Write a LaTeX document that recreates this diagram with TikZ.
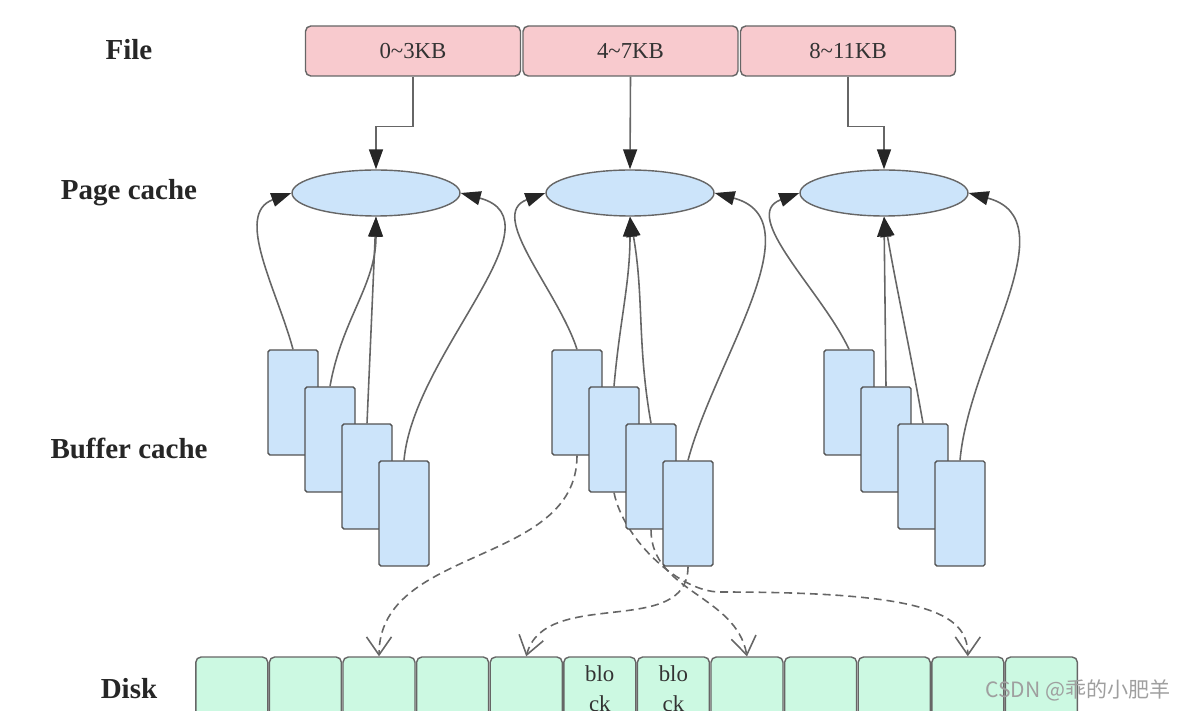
\documentclass[tikz,border=0pt]{standalone}
\usepackage{fontspec}
\setmainfont{Liberation Serif}
\newfontfamily\cjkfont{Noto Sans CJK SC}
\usetikzlibrary{arrows.meta,shapes.geometric,backgrounds}

\definecolor{filepink}{HTML}{F8CACE}
\definecolor{cacheblue}{HTML}{CCE4FA}
\definecolor{diskgreen}{HTML}{CCF9E2}
\definecolor{edgegray}{HTML}{666666}

\begin{document}
\begin{tikzpicture}[
  x=0.02cm, y=0.02cm,
  lbl/.style={font=\fontsize{16.5}{20}\selectfont\bfseries, text=black!85},
  filebox/.style={rectangle, rounded corners=3pt, draw=edgegray, fill=filepink, line width=0.8pt, minimum width=4.3cm, minimum height=1.0cm, inner sep=0pt, font=\fontsize{13}{16}\selectfont, text=black!80},
  pagenode/.style={ellipse, draw=edgegray, fill=cacheblue, line width=0.8pt, minimum width=3.36cm, minimum height=0.92cm, inner sep=0pt},
  bufbox/.style={rectangle, rounded corners=1pt, draw=edgegray!80!black, fill=cacheblue, line width=0.8pt, minimum width=1.0cm, minimum height=2.1cm, inner sep=0pt},
  diskcell/.style={rectangle, rounded corners=3pt, draw=edgegray, fill=diskgreen, line width=0.8pt, minimum width=1.44cm, minimum height=1.28cm, inner sep=0pt, align=center, font=\fontsize{13}{17}\selectfont, text=black!80},
  arrow/.style={-{Triangle[length=0.4cm, width=0.28cm, color=black!85]}, line width=0.9pt, draw=edgegray},
  dasharrow/.style={-{Straight Barb[length=0.36cm, width=0.5cm]}, dash pattern=on 4.5pt off 2.8pt, line width=0.9pt, draw=edgegray},
]
  \path[use as bounding box] (0,0) rectangle (1182,710);
  \clip (0,0) rectangle (1182,710);

  % Row labels
  \node[lbl] (lfile) at (129,660) {File};
  \node[lbl] (lpage) at (129,517) {Page cache};
  \node[lbl] (lbuf) at (129,262) {Buffer cache};
  \node[lbl] (ldisk) at (129,21) {Disk};

  % File pieces
  \node[filebox] (f1) at (413,659) {0\textasciitilde3KB};
  \node[filebox] (f2) at (630.5,659) {4\textasciitilde7KB};
  \node[filebox] (f3) at (848,659) {8\textasciitilde11KB};

  % Page cache
  \node[pagenode] (e1) at (376,517) {};
  \node[pagenode] (e2) at (630,517) {};
  \node[pagenode] (e3) at (884,517) {};

  % Buffer cache
  \foreach \g/\gx in {1/293, 2/577, 3/849}
    \foreach \k in {1,...,4}
      \node[bufbox] (b\g\k) at ({\gx+37*(\k-1)}, {307.5-37*(\k-1)}) {};

  % Disk blocks
  \foreach \i in {0,1,2,3,4,7,8,9,10,11}
    \node[diskcell] (d\i) at ({231.8+73.6*\i},21) {};
  \node[diskcell] (d5) at ({231.8+73.6*5},21) {blo\\ck};
  \node[diskcell] (d6) at ({231.8+73.6*6},21) {blo\\ck};
  \coordinate (dmid) at (720,118);

  % File -> page cache
  \draw[arrow] (f1.south) -- ++(0,-50) -| (e1.north);
  \draw[arrow] (f2.south) -- (e2.north);
  \draw[arrow] (f3.south) -- ++(0,-50) -| (e3.north);

  % Buffer cache -> page cache
  \draw[arrow] (b11.north) to[out=105,in=200] (e1.west);
  \draw[arrow] (b12.north) to[out=80,in=-90] (e1.south);
  \draw[arrow] (b13.north) -- (e1.south);
  \draw[arrow] (b14.north) to[out=85,in=-15] (e1.east);

  \draw[arrow] (b21.north) to[out=108,in=200] (e2.west);
  \draw[arrow] (b22.north) to[out=85,in=-90] (e2.south);
  \draw[arrow] (b23.north) to[out=100,in=-80] (e2.south);
  \draw[arrow] (b24.north) to[out=75,in=-15] (e2.east);

  \draw[arrow] (b31.north) to[out=115,in=200] (e3.west);
  \draw[arrow] (b32.north) -- (e3.south);
  \draw[arrow] (b33.north) to[out=100,in=-80] (e3.south);
  \draw[arrow] (b34.north) to[out=85,in=-15] (e3.east);

  % Buffer cache -> disk
  \begin{scope}[on background layer]
    \draw[dasharrow] (b21.south) to[out=-90,in=90] (d2.north);
    \draw[dasharrow] (b22.south) .. controls +(10,-48) and +(-40,0) .. (dmid)
      .. controls +(200,0) and +(0,45) .. (d10.north);
    \draw[dasharrow] (b23.south) to[out=-90,in=100] (d7.north);
    \draw[dasharrow] (b24.south) to[out=-90,in=75] (d4.north);
  \end{scope}

  \node[font=\cjkfont\fontsize{12}{14}\selectfont, text=gray!75] (mark) at (1078,20) {CSDN @乖的小肥羊};
\end{tikzpicture}
\end{document}
